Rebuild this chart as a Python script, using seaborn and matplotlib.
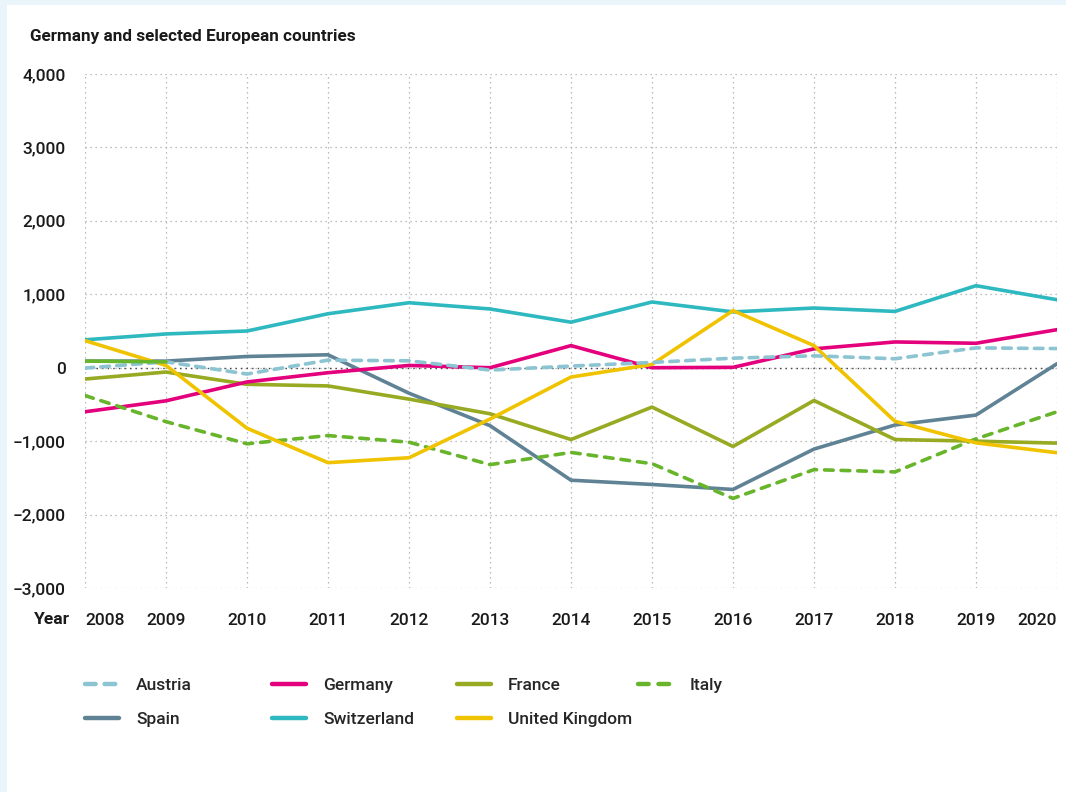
import matplotlib
matplotlib.use("Agg")
import matplotlib.pyplot as plt
import matplotlib.patches as mpatches
from matplotlib.lines import Line2D
import seaborn as sns
import pandas as pd
import numpy as np

# ---- data ----
years = list(range(2008, 2021))
austria = [-5, 80, -86, 103, 94, -32, 22, 72, 130, 162, 122, 270, 261]
germany = [-600, -451, -194, -68, 31, 0, 301, 0, 5, 257, 351, 333, 518]
france = [-154, -59, -226, -248, -428, -627, -978, -536, -1073, -446, -978, -1000, -1027]
italy = [-379, -735, -1036, -924, -1014, -1320, -1154, -1307, -1780, -1388, -1419, -969, -600]
spain = [90, 90, 153, 176, -347, -789, -1532, -1590, -1658, -1108, -780, -645, 54]
switzerland = [380, 460, 500, 735, 885, 800, 620, 895, 760, 813, 767, 1117, 926]
uk = [369, 31, -824, -1293, -1226, -699, -127, 45, 778, 301, -730, -1023, -1158]

# short solid green piece at the start of the chart
seg_years = [2008, 2009]
seg_values = [90, 80]

countries = ["Austria", "Germany", "France", "Italy", "Spain", "Switzerland", "United Kingdom"]
values = [austria, germany, france, italy, spain, switzerland, uk]
yticks = [-3000, -2000, -1000, 0, 1000, 2000, 3000, 4000]

colors = {
    "Austria": "#8cc4d2",
    "Germany": "#e4007c",
    "France": "#97aa22",
    "Italy": "#68b52c",
    "Spain": "#5f8395",
    "Switzerland": "#2eb8c0",
    "United Kingdom": "#f0c300",
}
dashes = {c: "" for c in countries}
dashes["Austria"] = (2.4, 2.0)
dashes["Italy"] = (2.4, 2.2)

df = pd.DataFrame({
    "Year": np.tile(years, len(countries)),
    "Value": np.concatenate(values),
    "Country": np.repeat(countries, len(years)),
})

# ---- style ----
sns.set_theme(style="white")
plt.rcParams["font.family"] = ["Roboto", "DejaVu Sans"]
plt.rcParams["axes.unicode_minus"] = True

fig = plt.figure(figsize=(10.66, 7.92), dpi=100, facecolor="#eaf4fb")
# white panel
fig.patches.append(mpatches.Rectangle((7 / 1066, 0), 1, 1 - 5 / 792, transform=fig.transFigure,
                                      facecolor="white", edgecolor="none", zorder=-10))

ax = fig.add_axes([85 / 1066, 1 - 588 / 792, (1057 - 85) / 1066, (588 - 74) / 792])
ax.set_facecolor("none")
ax.set_zorder(5)

draw_order = ["Spain", "Switzerland", "France", "Germany", "Italy", "United Kingdom", "Austria"]
sns.lineplot(data=df, x="Year", y="Value", hue="Country", style="Country",
             hue_order=draw_order, style_order=draw_order,
             palette=colors, dashes=dashes, linewidth=2.6, legend=False, ax=ax,
             zorder=3)
sns.lineplot(x=seg_years, y=seg_values, color=colors["Italy"], linewidth=2.6, ax=ax, zorder=3)
for ln in ax.lines:
    ln.set_solid_capstyle("round")
    ln.set_dash_capstyle("round")

ax.set_xlim(2008, 2020)
ax.set_ylim(-3000, 4000)
ax.set_xticks(years)
ax.set_yticks(yticks)
ax.set_yticklabels([f"{v:,}".replace("-", "\u2212") for v in yticks])
ax.set_xlabel("")
ax.set_ylabel("")
for s in ax.spines.values():
    s.set_visible(False)

ax.grid(True, which="major", color="#a8a8a8", linestyle=(0, (1, 3)), linewidth=0.9, zorder=1)
ax.axhline(0, color="#444444", linestyle=(0, (1, 3)), linewidth=1.0, zorder=2)

ax.tick_params(axis="both", length=0, labelsize=12.5, colors="#1a1a1a")
ax.tick_params(axis="x", pad=18)
ax.tick_params(axis="y", pad=14)
for lab in ax.get_xticklabels() + ax.get_yticklabels():
    lab.set_fontweight("medium")
xt = ax.get_xticklabels()
xt[0].set_horizontalalignment("left")
xt[-1].set_horizontalalignment("right")

fig.text(30 / 1066, 1 - 36 / 792, "Germany and selected European countries",
         fontsize=12.3, fontweight="bold", color="#1a1a1a", va="center", ha="left")
fig.text(70 / 1066, 1 - 619 / 792, "Year", fontsize=12.5, fontweight="bold",
         color="#1a1a1a", va="center", ha="right")

# ---- legend: four fixed-width columns ----
def handle(c):
    ls = (0, dashes[c]) if dashes[c] else "-"
    return Line2D([], [], color=colors[c], linewidth=3.2, linestyle=ls,
                  solid_capstyle="round", dash_capstyle="round")

columns = [["Austria", "Spain"], ["Germany", "Switzerland"], ["France", "United Kingdom"], ["Italy"]]
col_x = [78, 265, 450, 631]
for names, x in zip(columns, col_x):
    leg = fig.legend(handles=[handle(n) for n in names], labels=names,
                     loc="upper left", bbox_to_anchor=(x / 1066, 1 - 671 / 792),
                     frameon=False, fontsize=12.5, handlelength=1.95, handletextpad=1.0,
                     labelspacing=1.1, borderaxespad=0)
    for t in leg.get_texts():
        t.set_fontweight("medium")

fig.savefig("out.png", dpi=100, facecolor=fig.get_facecolor())
